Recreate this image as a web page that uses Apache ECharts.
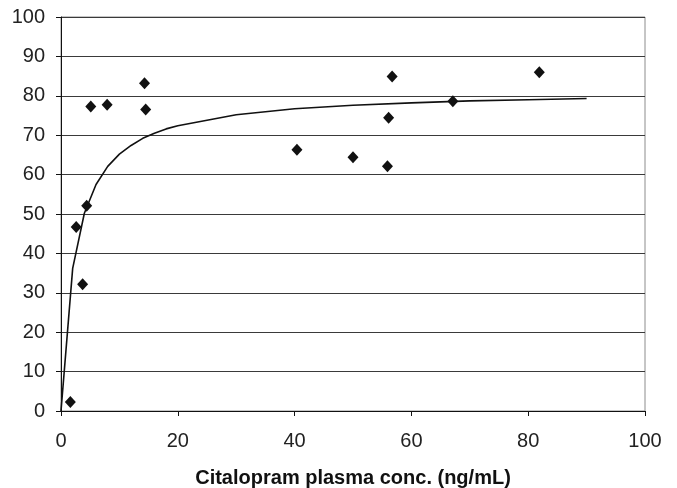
<!DOCTYPE html>
<html>
<head>
<meta charset="utf-8">
<script src="https://cdn.jsdelivr.net/npm/echarts@6/dist/echarts.min.js"></script>
<style>
  html, body { margin: 0; padding: 0; background: #fff; }
  #chart { width: 677px; height: 488px; }
</style>
</head>
<body>
<div id="chart"></div>
<script>
// observed points (conc, effect)
var obsConc = [1.6, 2.6, 3.7, 4.4, 5.1, 7.9, 14.3, 14.5, 40.4, 50.0, 55.9, 56.1, 56.7, 67.1, 81.9];
var obsEffect = [2.3, 46.7, 32.2, 52.1, 77.3, 77.7, 83.2, 76.5, 66.3, 64.4, 62.1, 74.4, 84.9, 78.6, 86.0];

// fitted curve
var fitConc = [0, 2, 4, 6, 8, 10, 12, 14, 16, 18, 20, 30, 40, 50, 60, 70, 80, 90];
var fitEffect = [0, 36.2, 50.2, 57.5, 62.1, 65.2, 67.4, 69.2, 70.5, 71.6, 72.4, 75.2, 76.7, 77.6, 78.2, 78.7, 79.0, 79.3];

var xTitle = "Citalopram plasma conc. (ng/mL)";

function pairs(xs, ys) {
  return xs.map((x, i) => [x, ys[i]]);
}

var chart = echarts.init(document.getElementById("chart"));
var font = "'Liberation Sans', Arial, sans-serif";

chart.setOption({
  animation: false,
  grid: {
    left: 61, right: 32, top: 17, bottom: 77,
    outerBoundsMode: "none",
    show: true, borderColor: "#8c8c8c", borderWidth: 1
  },
  xAxis: {
    type: "value", min: 0, max: 100, interval: 20,
    name: xTitle, nameLocation: "middle", nameGap: 57,
    nameTextStyle: { fontFamily: font, fontSize: 20, fontWeight: "bold", color: "#111" },
    axisLine: { show: true, lineStyle: { color: "#111", width: 1 } },
    axisTick: { show: true, length: 5, lineStyle: { color: "#111" } },
    axisLabel: { fontFamily: font, fontSize: 20, color: "#222", margin: 20 },
    splitLine: { show: false }
  },
  yAxis: {
    type: "value", min: 0, max: 100, interval: 10,
    axisLine: { show: true, lineStyle: { color: "#111", width: 1 } },
    axisTick: { show: true, length: 5, lineStyle: { color: "#111" } },
    axisLabel: { fontFamily: font, fontSize: 20, color: "#222", margin: 16 },
    splitLine: { show: true, lineStyle: { color: "#3a3a3a", width: 1 } }
  },
  series: [
    {
      type: "line",
      data: pairs(fitConc, fitEffect),
      showSymbol: false,
      smooth: false,
      lineStyle: { color: "#111", width: 1.6 },
      z: 3
    },
    {
      type: "scatter",
      data: pairs(obsConc, obsEffect),
      symbol: "diamond",
      symbolSize: [11, 12],
      itemStyle: { color: "#111", opacity: 1 },
      z: 4
    }
  ]
});
</script>
</body>
</html>
